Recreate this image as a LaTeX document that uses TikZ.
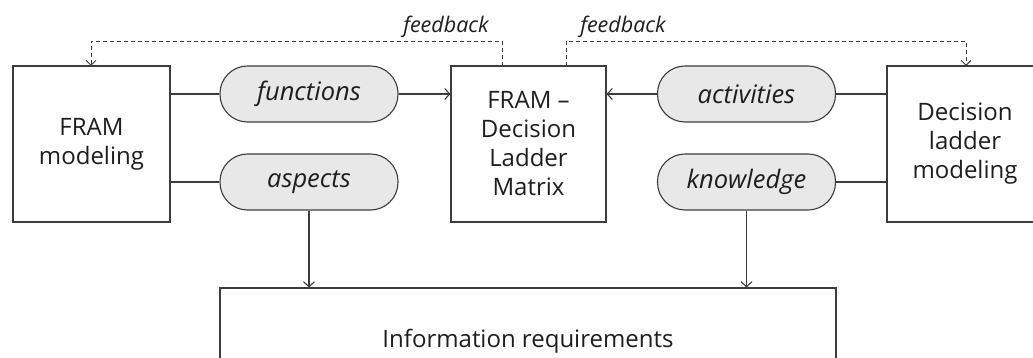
\documentclass[tikz,border=0pt]{standalone}
\usepackage{fontspec}
\setmainfont{Open Sans}
\usetikzlibrary{arrows.meta}
\definecolor{ln}{HTML}{3C3C3C}
\definecolor{pillfill}{HTML}{E8E8E8}
\definecolor{txt}{HTML}{1E1E1E}
\tikzset{
  box/.style={draw=ln, line width=1.1pt, fill=white, inner sep=0pt, align=center, text=txt, font=\fontsize{24}{29}\selectfont},
  pill/.style={draw=ln, line width=1.1pt, fill=pillfill, rounded corners=27.5pt, minimum width=178pt, minimum height=56pt, inner sep=0pt, text=txt, font=\fontsize{25.5}{34}\selectfont\itshape},
  conn/.style={draw=ln, line width=1.1pt},
  arr/.style={conn, -{Straight Barb[length=5pt,width=11pt,line width=1.1pt]}},
  fb/.style={draw=ln, line width=0.9pt, dash pattern=on 4pt off 3pt, -{Straight Barb[length=5pt,width=10pt,line width=0.9pt]}},
  fblabel/.style={text=txt, font=\fontsize{21.5}{24}\selectfont\itshape, inner sep=0pt},
}
\begin{document}
\begin{tikzpicture}[x=1pt, y=-1pt]
\useasboundingbox (0,0) rectangle (1033,358);
\clip (0,0) rectangle (1033,358);
% boxes
\node[box, minimum width=157pt, minimum height=156pt] (fram) at (91.5,144) {FRAM\\modeling};
\node[box, minimum width=155pt, minimum height=156pt] (mid) at (528.5,144) {FRAM --\\Decision\\Ladder\\Matrix};
\node[box, minimum width=156pt, minimum height=156pt] (dl) at (965,144) {Decision\\ladder\\modeling};
\node[box, minimum width=616pt, minimum height=106pt] (info) at (528,341) {Information requirements};
% pills
\node[pill] (func) at (309,94) {functions};
\node[pill] (asp) at (309,182) {aspects};
\node[pill] (act) at (746.5,94) {activities};
\node[pill] (know) at (746.5,182) {knowledge};
% connectors
\draw[conn] (fram.east |- func.west) -- (func.west);
\draw[arr] (func.east) -- (mid.west |- func.east);
\draw[conn] (fram.east |- asp.west) -- (asp.west);
\draw[arr] (asp.south) -- (asp.south |- info.north);
\draw[conn] (dl.west |- act.east) -- (act.east);
\draw[arr] (act.west) -- (mid.east |- act.west);
\draw[conn] (dl.west |- know.east) -- (know.east);
\draw[arr] (know.south) -- (know.south |- info.north);
% feedback loops
\coordinate (mL) at (502,66);
\coordinate (mR) at (566,66);
\coordinate (fT) at (91,66);
\coordinate (dT) at (966,66);
\draw[fb] (mL) -- ++(0,-25) -| (fT);
\draw[fb] (mR) -- ++(0,-25) -| (dT);
\node[fblabel, anchor=base] (fb1) at (446,33) {feedback};
\node[fblabel, anchor=base] (fb2) at (623,33) {feedback};
\end{tikzpicture}
\end{document}
